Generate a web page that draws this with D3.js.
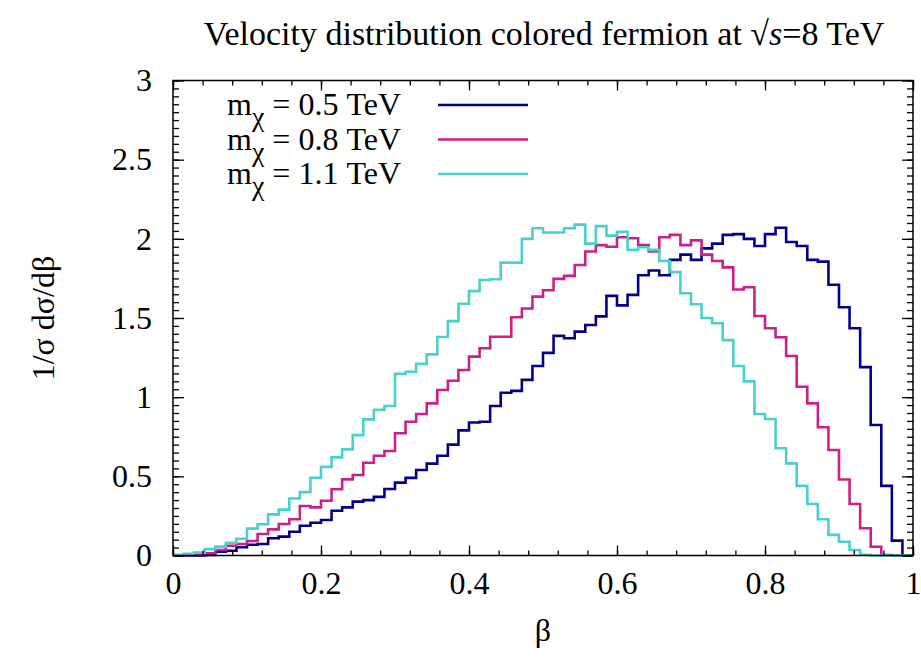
<!DOCTYPE html>
<html>
<head>
<meta charset="utf-8">
<script src="https://cdn.jsdelivr.net/npm/d3@7"></script>
<style>
  body { margin: 0; background: #fff; }
  svg { display: block; }
</style>
</head>
<body>
<script>
// 70 bins over beta in [0,1]
const binWidth = 1 / 70;

const mass05 = [0, 0, 0.001, 0.003, 0.024, 0.03, 0.052, 0.068, 0.073, 0.109,
  0.119, 0.15, 0.188, 0.207, 0.224, 0.283, 0.304, 0.34, 0.35, 0.37,
  0.42, 0.46, 0.49, 0.54, 0.58, 0.63, 0.70, 0.79, 0.84, 0.845,
  0.944, 1.028, 1.04, 1.109, 1.197, 1.28, 1.387, 1.372, 1.414, 1.456,
  1.51, 1.64, 1.58, 1.646, 1.77, 1.80, 1.77, 1.867, 1.90, 1.867,
  1.94, 1.97, 2.025, 2.03, 2.00, 1.955, 2.03, 2.07, 1.98, 1.955,
  1.867, 1.856, 1.71, 1.568, 1.435, 1.19, 0.824, 0.44, 0.094, 0];

const mass08 = [0, 0.002, 0.005, 0.014, 0.035, 0.062, 0.073, 0.092, 0.136, 0.165,
  0.199, 0.229, 0.313, 0.304, 0.346, 0.418, 0.481, 0.508, 0.586, 0.63,
  0.66, 0.772, 0.845, 0.894, 0.961, 1.045, 1.104, 1.172, 1.256, 1.309,
  1.382, 1.382, 1.505, 1.56, 1.635, 1.675, 1.747, 1.766, 1.835, 1.92,
  1.96, 1.95, 2.01, 2.004, 1.96, 1.92, 2.01, 2.025, 1.96, 1.99,
  1.90, 1.86, 1.82, 1.68, 1.694, 1.513, 1.435, 1.378, 1.26, 1.066,
  0.961, 0.81, 0.666, 0.48, 0.325, 0.172, 0.055, 0.003, 0, 0];

const mass11 = [0.005, 0.01, 0.018, 0.04, 0.056, 0.08, 0.106, 0.17, 0.197, 0.26,
  0.29, 0.36, 0.40, 0.49, 0.56, 0.62, 0.67, 0.76, 0.86, 0.92,
  0.944, 1.147, 1.16, 1.21, 1.27, 1.38, 1.48, 1.59, 1.67, 1.74,
  1.745, 1.85, 1.85, 2.0, 2.067, 2.04, 2.04, 2.067, 2.09, 1.97,
  2.08, 2.02, 2.045, 1.93, 1.947, 1.93, 1.86, 1.79, 1.656, 1.587,
  1.50, 1.467, 1.36, 1.197, 1.10, 0.894, 0.862, 0.677, 0.582, 0.44,
  0.325, 0.229, 0.13, 0.087, 0.035, 0.005, 0, 0, 0, 0];

const seriesNames = ["0.5 TeV", "0.8 TeV", "1.1 TeV"];
const seriesColors = ["#00008b", "#cc1f87", "#48d1cc"];
const seriesValues = [mass05, mass08, mass11];

const xTicks = [0, 0.2, 0.4, 0.6, 0.8, 1];
const xTickLabels = ["0", "0.2", "0.4", "0.6", "0.8", "1"];
const yTicks = [0, 0.5, 1, 1.5, 2, 2.5, 3];
const yTickLabels = ["0", "0.5", "1", "1.5", "2", "2.5", "3"];

const W = 921, H = 658;
const font = "'Liberation Serif', 'Times New Roman', serif";
const plotL = 173, plotR = 913, plotT = 80.5, plotB = 555.5;

const x = d3.scaleLinear().domain([0, 1]).range([plotL, plotR]);
const y = d3.scaleLinear().domain([0, 3]).range([plotB, plotT]);

const svg = d3.select("body").append("svg").attr("width", W).attr("height", H)
  .style("font-family", font);
svg.append("rect").attr("width", W).attr("height", H).attr("fill", "#fff");

// histograms
const step = d3.line().x(d => x(d[0])).y(d => y(d[1])).curve(d3.curveStepAfter);
seriesValues.forEach((vals, k) => {
  const pts = vals.map((v, i) => [i * binWidth, v]);
  pts.push([1, vals[vals.length - 1]]);
  svg.append("path").datum(pts)
    .attr("fill", "none")
    .attr("stroke", seriesColors[k])
    .attr("stroke-width", 2.6)
    .attr("d", step);
});

// axes: gnuplot-style inward ticks, mirrored
const minorX = d3.range(0, 1.0001, 0.04);
const minorY = d3.range(0, 3.0001, 0.05);
function styleAxis(g) {
  g.select(".domain").remove();
  g.selectAll("line").attr("stroke", "#000").attr("stroke-width", 1.3);
  g.selectAll("text").attr("fill", "#000").style("font-family", font).style("font-size", "32px");
}
svg.append("g").attr("transform", `translate(0,${plotB})`)
  .call(d3.axisBottom(x).tickValues(minorX).tickFormat("").tickSize(-5)).call(styleAxis);
svg.append("g").attr("transform", `translate(0,${plotT})`)
  .call(d3.axisTop(x).tickValues(minorX).tickFormat("").tickSize(-5)).call(styleAxis);
svg.append("g").attr("transform", `translate(${plotL},0)`)
  .call(d3.axisLeft(y).tickValues(minorY).tickFormat("").tickSize(-6)).call(styleAxis);
svg.append("g").attr("transform", `translate(${plotR},0)`)
  .call(d3.axisRight(y).tickValues(minorY).tickFormat("").tickSize(-6)).call(styleAxis);

svg.append("g").attr("transform", `translate(0,${plotB})`)
  .call(d3.axisBottom(x).tickValues(xTicks).tickFormat((d, i) => xTickLabels[i]).tickSize(-10).tickPadding(16))
  .call(styleAxis);
svg.append("g").attr("transform", `translate(0,${plotT})`)
  .call(d3.axisTop(x).tickValues(xTicks).tickFormat("").tickSize(-10)).call(styleAxis);
svg.append("g").attr("transform", `translate(${plotL},0)`)
  .call(d3.axisLeft(y).tickValues(yTicks).tickFormat((d, i) => yTickLabels[i]).tickSize(-11).tickPadding(21))
  .call(styleAxis);
svg.append("g").attr("transform", `translate(${plotR},0)`)
  .call(d3.axisRight(y).tickValues(yTicks).tickFormat("").tickSize(-11)).call(styleAxis);

svg.append("rect")
  .attr("x", plotL).attr("y", plotT).attr("width", plotR - plotL).attr("height", plotB - plotT)
  .attr("fill", "none").attr("stroke", "#000").attr("stroke-width", 1.5);

// legend
seriesNames.forEach((name, i) => {
  const yy = 115 + 34.5 * i;
  const t = svg.append("text").attr("x", 227).attr("y", yy)
    .attr("font-size", 32).attr("fill", "#000");
  t.append("tspan").text("m");
  t.append("tspan").attr("dy", 11).attr("font-size", 28).text("χ");
  t.append("tspan").attr("dy", -11).text(" = " + name);
  svg.append("line")
    .attr("x1", 438).attr("x2", 528).attr("y1", yy - 10).attr("y2", yy - 10)
    .attr("stroke", seriesColors[i]).attr("stroke-width", 2.6);
});

// title and axis labels
const title = svg.append("text").attr("x", 544).attr("y", 45)
  .attr("text-anchor", "middle").attr("font-size", 34).attr("fill", "#000");
title.append("tspan").text("Velocity distribution colored fermion at √");
title.append("tspan").attr("font-style", "italic").text("s");
title.append("tspan").text("=8 TeV");

svg.append("text").attr("x", 543).attr("y", 641)
  .attr("text-anchor", "middle").attr("font-size", 32).attr("fill", "#000").text("β");

svg.append("text")
  .attr("transform", "translate(54,318) rotate(-90)")
  .attr("text-anchor", "middle").attr("font-size", 32).attr("fill", "#000")
  .text("1/σ dσ/dβ");
</script>
</body>
</html>
